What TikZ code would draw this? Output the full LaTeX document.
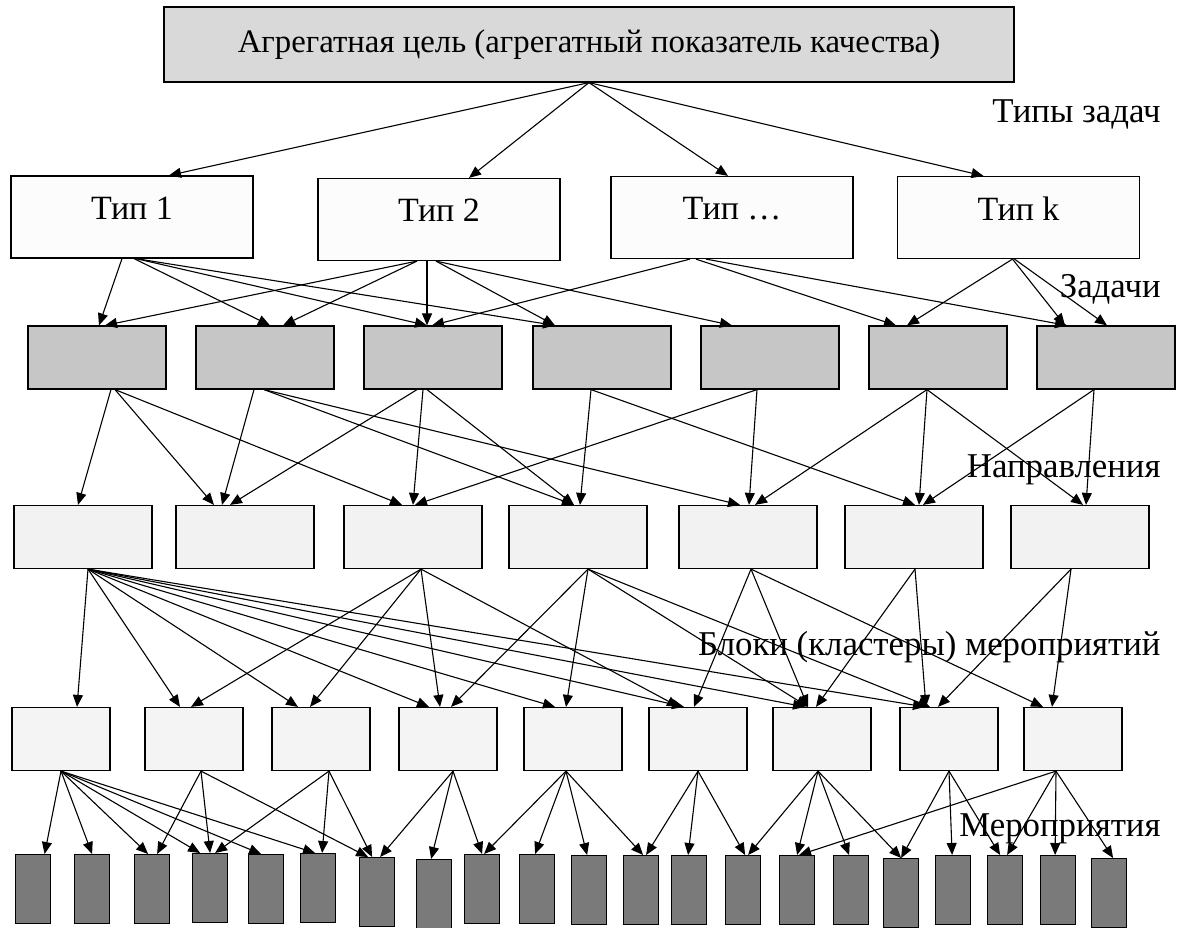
\documentclass[tikz,border=0pt]{standalone}
\usepackage{fontspec}
\setmainfont{Liberation Serif}
\usetikzlibrary{arrows.meta,calc}
\definecolor{goalgray}{HTML}{D9D9D9}
\definecolor{kindwhite}{HTML}{FCFCFC}
\definecolor{taskgray}{HTML}{C6C6C6}
\definecolor{dirgray}{HTML}{F2F2F2}
\definecolor{blockgray}{HTML}{F4F4F4}
\definecolor{actgray}{HTML}{7A7A7A}

\begin{document}
\begin{tikzpicture}[x=0.5pt,y=-0.5pt,
  font=\fontsize{17}{20}\selectfont,
  box/.style={draw,line width=0.6pt,inner sep=0pt},
  goal/.style={box,fill=goalgray,minimum width=425pt,minimum height=37.5pt,
    font=\fontsize{16.4}{20}\selectfont},
  kind/.style={box,fill=kindwhite,minimum width=121pt,minimum height=41pt,text depth=9pt},
  task/.style={box,fill=taskgray,minimum width=69pt,minimum height=31.5pt},
  dir/.style={box,fill=dirgray,minimum width=69pt,minimum height=31.5pt},
  block/.style={box,fill=blockgray,minimum width=49pt,minimum height=31.5pt},
  act/.style={box,fill=actgray,minimum width=17.5pt,minimum height=34.5pt,anchor=north west},
  lvl/.style={anchor=base east,inner sep=0pt,font=\fontsize{17.4}{20}\selectfont},
  link/.style={-{Triangle[length=6pt,width=5pt]},line width=0.55pt}]
  \useasboundingbox (0,0) rectangle (1177,927);

  % levels
  \node[goal] (goal) at (589,44.5) {Агрегатная цель (агрегатный показатель качества)};
  \node[kind] (t1) at (132,217) {Тип 1};
  \node[kind] (t2) at (439,219.5) {Тип 2};
  \node[kind] (t3) at (732,217.5) {Тип \dots};
  \node[kind] (t4) at (1018.5,217.5) {Тип k};
  \foreach \x [count=\i] in {97,265,433,602,770,938,1106}
    \node[task] (z\i) at (\x,357.5) {};
  \foreach \x [count=\i] in {83,245,413,578,748,914,1080}
    \node[dir] (n\i) at (\x,537) {};
  \foreach \x [count=\i] in {61,194,321,448,573,698,822,949,1073}
    \node[block] (k\i) at (\x,739) {};
  \foreach \x/\y [count=\i] in {15/854,74/854,134/854,192/853,248/854,300/853,359/857,
      416/859,464/854,519/854,571/855,623/855,671/855,725/855,779/855,833/855,
      883/858,935/855,987/855,1040/855,1091/858}
    \node[act] (m\i) at (\x,\y) {};

  % level captions
  \node[lvl] (c1) at (1161,122) {Типы задач};
  \node[lvl] (c2) at (1161,297) {Задачи};
  \node[lvl] (c3) at (1161,477) {Направления};
  \node[lvl] (c4) at (1161,655) {Блоки (кластеры) мероприятий};
  \node[lvl] (c5) at (1161,836) {Мероприятия};

  % links between levels
  \foreach \s/\a/\t/\b in {goal/0/t1/37,goal/0/t2/30,goal/0/t3/-4,goal/0/t4/-35}
    \draw[link] ($(\s.south)+(\a,0)$) -- ($(\t.north)+(\b,0)$);
  \foreach \s/\a/\t/\b in {t1/-10/z1/2,t1/2/z2/5,t1/4/z3/-6,t1/4/z4/-47,
      t2/-22/z1/8,t2/-22/z2/18,t2/-12/z3/-6,t2/-3/z4/-47,t2/-3/z5/-38,
      t3/-42/z3/-1,t3/-36/z6/-42,t3/-26/z7/-39,
      t4/-6/z6/-31,t4/-6/z7/-41,t4/-4/z7/1}
    \draw[link] ($(\s.south)+(\a,0)$) -- ($(\t.north)+(\b,0)$);
  \foreach \s/\a/\t/\b in {z1/14/n1/-5,z1/18/n2/-31,z1/18/n3/-11,
      z2/-11/n2/-23,z2/-1/n4/-4,z2/-1/n5/-8,
      z3/-16/n2/-15,z3/-10/n3/0,z3/-6/n4/-4,
      z4/-11/n4/2,z4/-11/n6/1,
      z5/-13/n3/2,z5/-13/n5/1,
      z6/-11/n5/7,z6/-11/n6/5,z6/-11/n7/3,
      z7/-12/n6/9,z7/-12/n7/6}
    \draw[link] ($(\s.south)+(\a,0)$) -- ($(\t.north)+(\b,0)$);
  \foreach \s/\a/\t/\b in {n1/5/k1/16,n1/5/k2/-14,n1/5/k3/-23,n1/5/k4/-19,
      n1/5/k5/-18,n1/5/k6/-14,n1/5/k7/-17,n1/5/k8/-24,
      n3/8/k2/-3,n3/8/k3/-11,n3/8/k4/-8,n3/8/k6/-19,
      n4/10/k4/3,n4/10/k5/-7,n4/10/k7/-14,n4/10/k8/-19,
      n5/3/k6/-4,n5/3/k7/-14,n5/3/k9/-30,
      n6/1/k7/-6,n6/1/k8/-23,
      n7/-9/k8/-11,n7/-9/k9/-21}
    \draw[link] ($(\s.south)+(\a,0)$) -- ($(\t.north)+(\b,0)$);
  \foreach \s/\a/\t/\b in {k1/0/m1/11.5,k1/0/m2/0,k1/0/m3/-4,k1/0/m4/-10,k1/0/m5/-5,k1/0/m6/-3,
      k2/7/m3/5,k2/7/m4/0,k2/7/m7/-9,
      k3/8/m4/5,k3/8/m6/4,k3/8/m7/-5,
      k4/5/m7/3,k4/5/m8/-3,k4/5/m9/0,
      k5/-7/m9/2,k5/-7/m10/-2,k5/-7/m11/-2,k5/-7/m12/2,
      k6/0/m12/5,k6/0/m13/-1,k6/0/m14/2,
      k7/-4/m14/5,k7/-4/m15/0,k7/-4/m16/-2,k7/-4/m17/0,
      k8/0/m17/0,k8/0/m18/-1,k8/0/m19/-5,
      k9/-17/m15/2,k9/-17/m19/2,k9/-17/m20/-3,k9/-17/m21/4}
    \draw[link] ($(\s.south)+(\a,0)$) -- ($(\t.north)+(\b,0)$);
\end{tikzpicture}
\end{document}
